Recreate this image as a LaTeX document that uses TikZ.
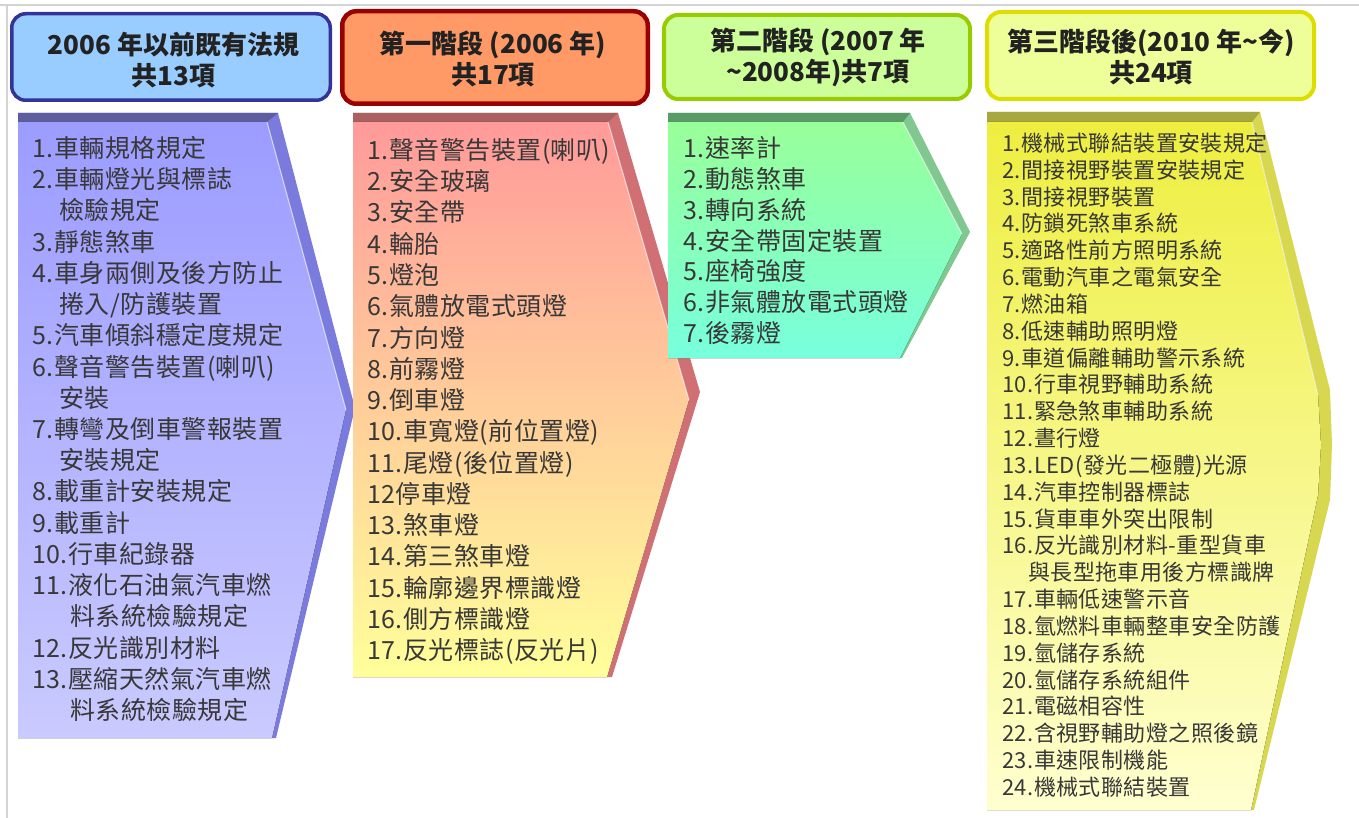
\documentclass[tikz,border=0pt]{standalone}
\usepackage{fontspec}
\setmainfont{Noto Sans CJK TC}
\newfontfamily\listfont[LetterSpace=2]{Noto Sans CJK TC}
\definecolor{txt}{HTML}{383838}
\definecolor{htxt}{HTML}{222222}
\definecolor{frame}{HTML}{D4D4D4}
% headers
\definecolor{hbF}{HTML}{99CCFF}\definecolor{hbD}{HTML}{333399}
\definecolor{hoF}{HTML}{FF9966}\definecolor{hoD}{HTML}{990000}
\definecolor{hgF}{HTML}{CCFF99}\definecolor{hgD}{HTML}{99CC00}
\definecolor{hyF}{HTML}{EEFF99}\definecolor{hyD}{HTML}{DDDD00}
% chevrons
\definecolor{cbT}{HTML}{5E5E9E}\definecolor{cbB}{HTML}{7B7BDD}
\definecolor{cbF1}{HTML}{9C9CFF}\definecolor{cbF2}{HTML}{CACAFF}
\definecolor{coT}{HTML}{A86060}\definecolor{coB}{HTML}{D07075}
\definecolor{coF1}{HTML}{FF9A9A}\definecolor{coF2}{HTML}{FFC898}\definecolor{coF3}{HTML}{FFFF9A}
\definecolor{cgT}{HTML}{5A9A66}\definecolor{cgB}{HTML}{80C890}
\definecolor{cgF1}{HTML}{99FF99}\definecolor{cgF2}{HTML}{77FFDD}
\definecolor{cyT}{HTML}{A8A840}\definecolor{cyB}{HTML}{D8D850}
\definecolor{cyF1}{HTML}{EEEE40}\definecolor{cyF2}{HTML}{FFFF90}\definecolor{cyF3}{HTML}{FFFFD0}
\begin{document}
\begin{tikzpicture}[x=1pt,y=-1pt,
  item/.style={anchor=west, inner sep=0pt, text height=22pt, text depth=3pt, text=txt,
    font=\listfont\fontsize{25}{30}\selectfont},
  yitem/.style={item, text height=19.4pt, text depth=2.6pt, font=\listfont\fontsize{22}{26}\selectfont},
  hdrbox/.style={rounded corners=14pt, inner sep=0pt},
  hdrtext/.style={align=center, inner sep=0pt, text=htxt,
    font=\fontsize{26}{31}\selectfont\bfseries},
  hilite/.style={draw=white, draw opacity=0.7, line width=1pt}]
\useasboundingbox (0,0) rectangle (1359,818);
\fill[white] (0,0) rectangle (1359,818);
% frame
\draw[frame, line width=1.5pt] (0,5) -- (1359,5);
\draw[frame, line width=1.5pt] (7,5) -- (7,818);

% ---------- blue chevron ----------
\fill[cbB] (18,113) -- (278,113) -- (355,408) -- (276,738) -- (18,738) -- cycle;
\fill[cbT] (18,113) -- (278,113) -- (267,122) -- (18,122) -- cycle;
\fill[top color=cbF1, bottom color=cbF2] (18,122) -- (267,122) -- (346,410) -- (272,738) -- (18,738) -- cycle;
\draw[hilite] (267,122) -- (346,410);

% ---------- orange chevron ----------
\fill[coB] (353,113) -- (618,113) -- (700,392) -- (612,677) -- (353,677) -- cycle;
\fill[coT] (353,113) -- (618,113) -- (608,122) -- (353,122) -- cycle;
\fill[top color=coF1, middle color=coF2, bottom color=coF3] (353,122) -- (608,122) -- (689,400) -- (607,677) -- (353,677) -- cycle;
\draw[hilite] (608,122) -- (689,400);

% ---------- green chevron ----------
\fill[cgB] (668,113) -- (910,113) -- (970,232) -- (902,358) -- (668,358) -- cycle;
\fill[cgT] (668,113) -- (910,113) -- (903,122) -- (668,122) -- cycle;
\fill[top color=cgF1, bottom color=cgF2] (668,122) -- (903,122) -- (962,234) -- (900,358) -- (668,358) -- cycle;
\draw[hilite] (903,122) -- (962,234);

% ---------- yellow chevron ----------
\fill[cyB] (987,112) -- (1260,112) -- (1330,390) -- (1332,445) -- (1330,500) -- (1254,810) -- (987,810) -- cycle;
\fill[cyT] (987,112) -- (1260,112) -- (1252,122) -- (987,122) -- cycle;
\fill[top color=cyF1, middle color=cyF2, bottom color=cyF3] (987,122) -- (1252,122) -- (1318,395) -- (1321,445) -- (1318,495) -- (1251,810) -- (987,810) -- cycle;
\draw[hilite] (1252,122) -- (1318,395);

% ---------- headers ----------
\node[hdrbox, draw=hbD, fill=hbF, line width=3.5pt, minimum width=318.5pt, minimum height=86.5pt] (h1) at (171,57) {};
\node[hdrbox, draw=hoD, fill=hoF, line width=4.5pt, minimum width=305.5pt, minimum height=92.5pt] (h2) at (495,57.5) {};
\node[hdrbox, draw=hgD, fill=hgF, line width=4pt, minimum width=306pt, minimum height=84pt] (h3) at (817,57) {};
\node[hdrbox, draw=hyD, fill=hyF, line width=4pt, minimum width=327pt, minimum height=87pt] (h4) at (1150.5,55.5) {};
\node[hdrtext] (t1) at (173.5,60) {2006 年以前既有法規\\共13項};
\node[hdrtext] (t2) at (493,59) {第一階段 (2006 年)\\共17項};
\node[hdrtext] (t3) at (818,57) {第二階段 (2007 年\\{\char"7E}2008年)共7項};
\node[hdrtext] (t4) at (1151,57) {第三階段後(2010 年{\char"7E}今)\\共24項};

% ---------- lists ----------
\foreach \t [count=\i from 0] in {1.車輛規格規定, 2.車輛燈光與標誌, {\hspace{27pt}檢驗規定}, 3.靜態煞車,
  4.車身兩側及後方防止, {\hspace{27pt}捲入/防護裝置}, 5.汽車傾斜穩定度規定, 6.聲音警告裝置(喇叭),
  {\hspace{27pt}安裝}, 7.轉彎及倒車警報裝置, {\hspace{27pt}安裝規定}, 8.載重計安裝規定, 9.載重計,
  10.行車紀錄器, 11.液化石油氣汽車燃, {\hspace{38pt}料系統檢驗規定}, 12.反光識別材料,
  13.壓縮天然氣汽車燃, {\hspace{38pt}料系統檢驗規定}}
  \node[item] (b\i) at (32,{148+31.22*\i}) {\t};

\foreach \t [count=\i from 0] in {1.聲音警告裝置(喇叭), 2.安全玻璃, 3.安全帶, 4.輪胎, 5.燈泡,
  6.氣體放電式頭燈, 7.方向燈, 8.前霧燈, 9.倒車燈, 10.車寬燈(前位置燈), 11.尾燈(後位置燈),
  12停車燈, 13.煞車燈, 14.第三煞車燈, 15.輪廓邊界標識燈, 16.側方標識燈, 17.反光標誌(反光片)}
  \node[item] (o\i) at (367,{150+31.25*\i}) {\t};

\foreach \t [count=\i from 0] in {1.速率計, 2.動態煞車, 3.轉向系統, 4.安全帶固定裝置, 5.座椅強度,
  6.非氣體放電式頭燈, 7.後霧燈}
  \node[item] (g\i) at (683,{148+30.85*\i}) {\t};

\foreach \t [count=\i from 0] in {1.機械式聯結裝置安裝規定, 2.間接視野裝置安裝規定, 3.間接視野裝置,
  4.防鎖死煞車系統, 5.適路性前方照明系統, 6.電動汽車之電氣安全, 7.燃油箱, 8.低速輔助照明燈,
  9.車道偏離輔助警示系統, 10.行車視野輔助系統, 11.緊急煞車輔助系統, 12.晝行燈,
  13.LED(發光二極體)光源, 14.汽車控制器標誌, 15.貨車車外突出限制, 16.反光識別材料-重型貨車,
  {\hspace{26pt}與長型拖車用後方標識牌}, 17.車輛低速警示音, 18.氫燃料車輛整車安全防護,
  19.氫儲存系統, 20.氫儲存系統組件, 21.電磁相容性, 22.含視野輔助燈之照後鏡, 23.車速限制機能,
  24.機械式聯結裝置}
  \node[yitem] (y\i) at (1002,{143+26.83*\i}) {\t};
\end{tikzpicture}
\end{document}
